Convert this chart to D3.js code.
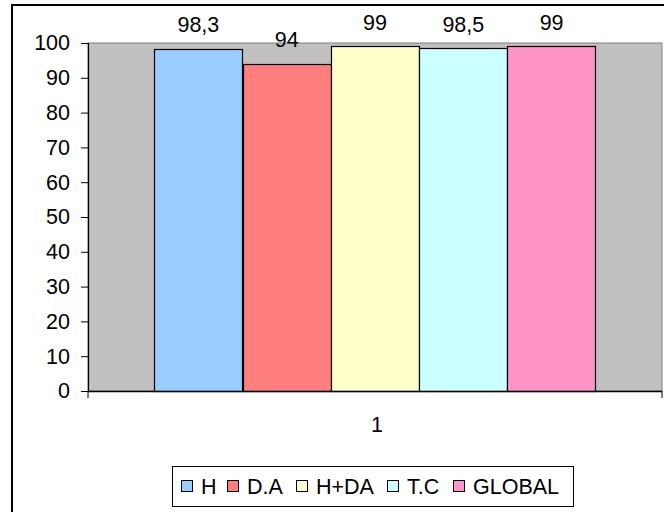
<!DOCTYPE html>
<html>
<head>
<meta charset="utf-8">
<script src="https://cdn.jsdelivr.net/npm/d3@7"></script>
<style>
  html, body { margin: 0; padding: 0; background: #fff; }
  svg { display: block; font-family: "Liberation Sans", Arial, sans-serif; }
</style>
</head>
<body>
<svg id="chart" width="664" height="512"></svg>
<script>
// Series (one category, five series)
const categories = ["1"];
const seriesNames = ["H", "D.A", "H+DA", "T.C", "GLOBAL"];
const seriesValues = [98.3, 94, 99, 98.5, 99];
const valueLabels = ["98,3", "94", "99", "98,5", "99"];
const seriesColors = ["#99CCFF", "#FF7F7F", "#FFFFCC", "#CCFFFF", "#FF94C6"];
const yTicks = [0, 10, 20, 30, 40, 50, 60, 70, 80, 90, 100];

const svg = d3.select("#chart");
const fs = 21.5;

// Chart area frame
svg.append("rect").attr("x", 12).attr("y", 5).attr("width", 680).attr("height", 540)
  .attr("fill", "#fff").attr("stroke", "#000").attr("stroke-width", 2);

const plot = { left: 88, right: 662, top: 43, bottom: 391 };

const y = d3.scaleLinear().domain([0, 100]).range([plot.bottom, plot.top]);
const x0 = d3.scaleBand().domain(categories).range([plot.left, plot.right]).paddingInner(0).paddingOuter(0);
const groupWidth = x0.bandwidth() / 1.3;
const x1 = d3.scaleBand().domain(seriesNames)
  .range([0, groupWidth]).padding(0);

// Plot background
svg.append("rect")
  .attr("x", plot.left).attr("y", plot.top)
  .attr("width", plot.right - plot.left).attr("height", plot.bottom - plot.top)
  .attr("fill", "#C0C0C0").attr("stroke", "#808080").attr("stroke-width", 1);

// Bars
const g = svg.append("g");
categories.forEach(cat => {
  const gx = x0(cat) + (x0.bandwidth() - groupWidth) / 2;
  g.selectAll("rect.bar").data(seriesNames).join("rect")
    .attr("class", "bar")
    .attr("x", d => Math.round(gx + x1(d)) + 0.5)
    .attr("y", (d, i) => Math.round(y(seriesValues[i])) + 0.5)
    .attr("width", Math.round(x1.bandwidth()))
    .attr("height", (d, i) => Math.round(y(0)) - Math.round(y(seriesValues[i])))
    .attr("fill", (d, i) => seriesColors[i])
    .attr("stroke", "#000").attr("stroke-width", 1.2);

  g.selectAll("text.val").data(seriesNames).join("text")
    .attr("class", "val")
    .attr("x", d => gx + x1(d) + x1.bandwidth() / 2)
    .attr("y", (d, i) => y(seriesValues[i]) - 16.5)
    .attr("text-anchor", "middle")
    .attr("font-size", fs)
    .attr("fill", "#000")
    .text((d, i) => valueLabels[i]);
});

// Y axis
const yAxis = d3.axisLeft(y).tickValues(yTicks).tickSize(7).tickPadding(11).tickFormat(d3.format("d"));
const ya = svg.append("g").attr("transform", `translate(${plot.left},0)`).call(yAxis);
ya.select(".domain").attr("stroke", "#000").attr("stroke-width", 1.2);
ya.selectAll(".tick line").attr("stroke", "#000");
ya.selectAll(".tick text").attr("font-size", fs).attr("font-family", "Liberation Sans, Arial, sans-serif").attr("fill", "#000");

// X axis
const xa = svg.append("g").attr("transform", `translate(0,${plot.bottom})`);
xa.append("line").attr("x1", plot.left).attr("x2", plot.right).attr("y1", 0.5).attr("y2", 0.5)
  .attr("stroke", "#000").attr("stroke-width", 1.5);
[plot.left, plot.right].forEach(px => {
  xa.append("line").attr("x1", px).attr("x2", px).attr("y1", 0).attr("y2", 7)
    .attr("stroke", "#000");
});
xa.selectAll("text.cat").data(categories).join("text")
  .attr("class", "cat")
  .attr("x", d => x0(d) + x0.bandwidth() / 2 + 2)
  .attr("y", 41)
  .attr("text-anchor", "middle")
  .attr("font-size", fs)
  .text(d => d);

// Legend
const legend = svg.append("g");
legend.append("rect").attr("x", 172.5).attr("y", 466.5).attr("width", 401).attr("height", 40)
  .attr("fill", "#fff").attr("stroke", "#000").attr("stroke-width", 1);
const legendX = [181, 227, 296, 387, 453];
seriesNames.forEach((name, i) => {
  legend.append("rect").attr("x", legendX[i] + 0.5).attr("y", 480.5).attr("width", 11).attr("height", 11)
    .attr("fill", seriesColors[i]).attr("stroke", "#000").attr("stroke-width", 1);
  legend.append("text").attr("x", legendX[i] + 20).attr("y", 494)
    .attr("font-size", fs).text(name);
});
</script>
</body>
</html>
